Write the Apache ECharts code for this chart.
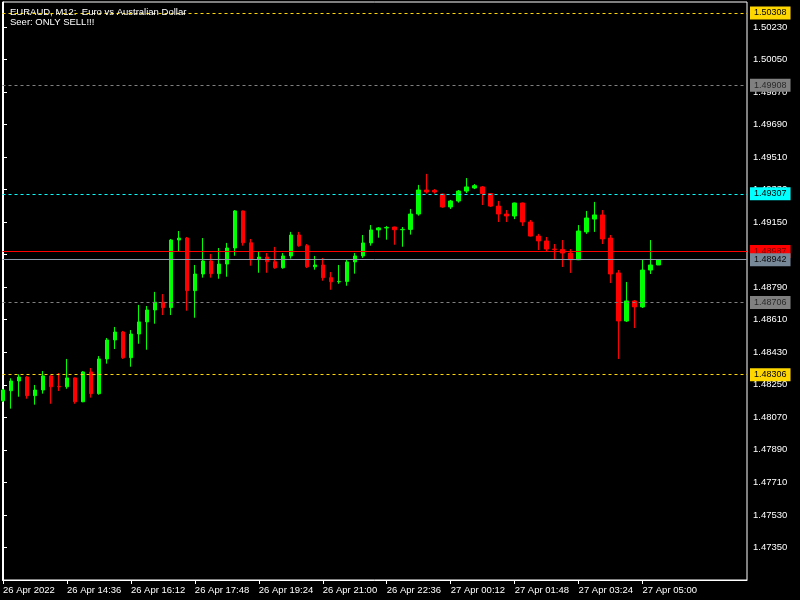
<!DOCTYPE html>
<html><head><meta charset="utf-8">
<script src="https://cdn.jsdelivr.net/npm/echarts@6/dist/echarts.min.js"></script>
<style>html,body{margin:0;padding:0;background:#000;}#c{width:800px;height:600px;}</style>
</head><body><div id="c"></div>
<script>
const titleLine1 = 'EURAUD, M12:  Euro vs Australian Dollar';
const titleLine2 = 'Seer: ONLY SELL!!!';
const xTickIndex = [0, 8, 16, 24, 32, 40, 48, 56, 64, 72, 80];
const xTickLabels = ['26 Apr 2022','26 Apr 14:36','26 Apr 16:12','26 Apr 17:48','26 Apr 19:24','26 Apr 21:00','26 Apr 22:36','27 Apr 00:12','27 Apr 01:48','27 Apr 03:24','27 Apr 05:00'];
const yTickValues = [1.47350,1.47530,1.47710,1.47890,1.48070,1.48250,1.48430,1.48610,1.48790,1.48970,1.49150,1.49330,1.49510,1.49690,1.49870,1.50050,1.50230];
const opens = [1.48162,1.48217,1.48271,1.48293,1.48190,1.48221,1.48299,1.48241,1.48239,1.48288,
1.48156,1.48321,1.48201,1.48393,1.48498,1.48542,1.48400,1.48531,1.48598,1.48664,
1.48707,1.48677,1.49051,1.49062,1.48771,1.48863,1.48935,1.48865,1.48918,1.49007,
1.49212,1.49036,1.48944,1.48957,1.48931,1.48898,1.48963,1.49079,1.49020,1.48903,
1.48913,1.48843,1.48820,1.48822,1.48930,1.48963,1.49035,1.49107,1.49118,1.49123,
1.49108,1.49110,1.49195,1.49328,1.49326,1.49305,1.49234,1.49267,1.49322,1.49339,
1.49345,1.49308,1.49239,1.49195,1.49184,1.49256,1.49151,1.49073,1.49046,1.49001,
1.48999,1.48979,1.48942,1.49096,1.49167,1.49190,1.49062,1.48869,1.48603,1.48714,
1.48681,1.48885,1.48913];
const closes = [1.48221,1.48271,1.48293,1.48190,1.48221,1.48299,1.48239,1.48239,1.48288,1.48156,
1.48321,1.48201,1.48393,1.48498,1.48542,1.48400,1.48531,1.48598,1.48664,1.48707,
1.48677,1.49051,1.49062,1.48771,1.48863,1.48935,1.48865,1.48918,1.49007,1.49212,
1.49036,1.48944,1.48957,1.48931,1.48898,1.48963,1.49079,1.49020,1.48903,1.48913,
1.48843,1.48820,1.48822,1.48930,1.48963,1.49035,1.49107,1.49118,1.49120,1.49108,
1.49110,1.49195,1.49328,1.49317,1.49317,1.49234,1.49267,1.49322,1.49345,1.49352,
1.49308,1.49239,1.49195,1.49184,1.49256,1.49151,1.49073,1.49046,1.49001,1.48999,
1.48979,1.48942,1.49101,1.49173,1.49190,1.49057,1.48863,1.48603,1.48714,1.48681,
1.48885,1.48913,1.48942];
const highs = [1.48227,1.48286,1.48308,1.48298,1.48249,1.48326,1.48303,1.48315,1.48393,1.48290,
1.48326,1.48343,1.48409,1.48509,1.48570,1.48548,1.48553,1.48692,1.48686,1.48764,
1.48752,1.49057,1.49101,1.49068,1.48913,1.49062,1.48974,1.49007,1.49035,1.49217,
1.49214,1.49057,1.48985,1.48979,1.49013,1.48979,1.49096,1.49096,1.49029,1.48963,
1.48952,1.48874,1.48913,1.48941,1.48979,1.49079,1.49134,1.49123,1.49129,1.49125,
1.49123,1.49223,1.49356,1.49417,1.49333,1.49308,1.49273,1.49328,1.49394,1.49361,
1.49350,1.49311,1.49267,1.49217,1.49258,1.49258,1.49162,1.49085,1.49068,1.49029,
1.49051,1.49001,1.49134,1.49212,1.49262,1.49217,1.49079,1.48885,1.48819,1.48719,
1.48946,1.49051,1.48942];
const lows = [1.48155,1.48118,1.48184,1.48173,1.48140,1.48201,1.48145,1.48216,1.48228,1.48145,
1.48154,1.48179,1.48195,1.48367,1.48448,1.48393,1.48350,1.48477,1.48444,1.48588,
1.48636,1.48636,1.48987,1.48660,1.48621,1.48843,1.48843,1.48837,1.48848,1.48964,
1.49020,1.48909,1.48870,1.48870,1.48892,1.48892,1.48948,1.49014,1.48896,1.48887,
1.48826,1.48776,1.48809,1.48798,1.48865,1.48952,1.49020,1.49064,1.49053,1.49025,
1.49014,1.49081,1.49186,1.49308,1.49308,1.49230,1.49223,1.49258,1.49311,1.49333,
1.49245,1.49234,1.49151,1.49151,1.49167,1.49129,1.49071,1.48996,1.48990,1.48946,
1.48902,1.48869,1.48940,1.49085,1.49096,1.49029,1.48813,1.48393,1.48598,1.48564,
1.48675,1.48863,1.48913];
const levelValues = [1.50308, 1.49908, 1.49307, 1.48987, 1.48942, 1.48706, 1.48306];

const levelStyles = [
  {line:'#FFD700', type:[3,3], bg:'#FFD700', fg:'#000000'},
  {line:'#808080', type:[3,3], bg:'#808080', fg:'#2a2a2a'},
  {line:'#00FFFF', type:[3,3], bg:'#00FFFF', fg:'#000000'},
  {line:'#FF0000', type:'solid', bg:'#FF0000', fg:'#700000'},
  {line:'#8A9AAA', type:'solid', bg:'#778899', fg:'#0a0a0a'},
  {line:'#808080', type:[3,3], bg:'#808080', fg:'#2a2a2a'},
  {line:'#FFD700', type:[3,3], bg:'#FFD700', fg:'#000000'}
];
const FONT = 'Liberation Sans';
const candleData = opens.map((o, i) => [i, o, closes[i], lows[i], highs[i]]);
const levelSeries = levelValues.map((v, i) => ({
  type: 'line',
  data: [],
  silent: true,
  z: 3,
  markLine: {
    silent: true, symbol: ['none', 'none'], animation: false, precision: 5,
    lineStyle: {color: levelStyles[i].line, type: levelStyles[i].type, width: 1},
    label: {
      show: true, position: 'end', distance: 3,
      formatter: v.toFixed(5),
      color: levelStyles[i].fg, backgroundColor: levelStyles[i].bg,
      fontFamily: FONT, fontSize: 9, lineHeight: 10, padding: [2, 4, 1, 4]
    },
    data: [{yAxis: v}]
  }
}));

const chart = echarts.init(document.getElementById('c'), null, {renderer: 'canvas'});
chart.setOption({
  animation: false,
  backgroundColor: '#000000',
  title: {
    text: titleLine1 + '\n' + titleLine2,
    left: 5, top: 2,
    textStyle: {color: '#ffffff', fontFamily: FONT, fontSize: 9.5, fontWeight: 'normal', lineHeight: 10}
  },
  grid: {left: 2, right: 53, top: 2, bottom: 20, show: true, borderColor: '#ffffff', borderWidth: 1, backgroundColor: 'transparent'},
  xAxis: {
    type: 'value', min: -0.0625, max: 93.0625,
    axisLine: {show: true, lineStyle: {color: '#ffffff', width: 1}},
    axisTick: {show: true, length: 4, customValues: xTickIndex, lineStyle: {color: '#ffffff'}},
    axisLabel: {
      show: true, customValues: xTickIndex, align: 'left', margin: 5,
      color: '#ffffff', fontFamily: FONT, fontSize: 9.5,
      formatter: v => xTickLabels[xTickIndex.indexOf(Math.round(v))] || ''
    },
    splitLine: {show: false}
  },
  yAxis: {
    type: 'value', position: 'right',
    min: 1.471697, max: 1.503683,
    axisLine: {show: true, lineStyle: {color: '#ffffff', width: 1}},
    axisTick: {show: true, length: 4, customValues: yTickValues, lineStyle: {color: '#ffffff'}},
    axisLabel: {
      show: true, customValues: yTickValues, margin: 6,
      color: '#ffffff', fontFamily: FONT, fontSize: 9.5,
      formatter: v => v.toFixed(5)
    },
    splitLine: {show: false}
  },
  series: [{
    type: 'candlestick',
    data: candleData,
    encode: {x: 0, y: [1, 2, 3, 4]},
    barWidth: 4,
    clip: true,
    z: 4,
    itemStyle: {
      color: '#00FF00', color0: '#FF0000',
      borderColor: '#00FF00', borderColor0: '#FF0000', borderWidth: 1
    }
  }].concat(levelSeries)
});
</script>
</body></html>
